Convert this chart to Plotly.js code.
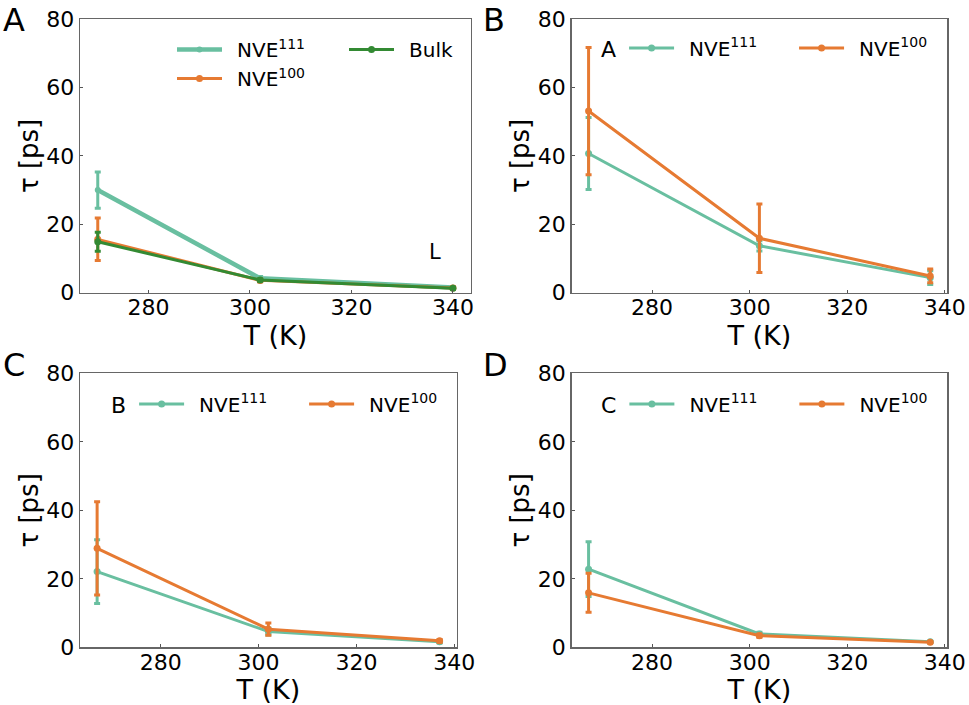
<!DOCTYPE html>
<html>
<head>
<meta charset="utf-8">
<script src="https://cdn.plot.ly/plotly-3.0.1.min.js"></script>
<style>html,body{margin:0;padding:0;background:#fff;}#chart{width:969px;height:705px;}</style>
</head>
<body>
<div id="chart"></div>
<script>
// ---- data ----
const tempA = [270, 302, 340];
const tempBCD = [267, 302, 337];

const nve111A = [30.0, 4.2, 1.5];
const err111A = [5.3, 0.5, 0.3];
const nve100A = [15.6, 3.6, 1.4];
const err100A = [6.2, 0.4, 0.3];
const bulkA = [14.9, 3.7, 1.3];
const errBulkA = [2.8, 0.3, 0.2];

const nve111B = [40.7, 13.7, 4.4];
const err111B = [10.5, 1.5, 2.0];
const nve100B = [53.1, 15.9, 4.9];
const err100B = [18.6, 10.0, 2.0];

const nve111C = [22.1, 4.6, 1.6];
const err111C = [9.3, 1.0, 0.3];
const nve100C = [28.9, 5.3, 1.9];
const err100C = [13.6, 1.8, 0.4];

const nve111D = [22.8, 3.9, 1.6];
const err111D = [8.0, 0.5, 0.2];
const nve100D = [15.9, 3.4, 1.5];
const err100D = [5.7, 0.5, 0.2];

const xTicks = [280, 300, 320, 340];
const yTicks = [0, 20, 40, 60, 80];

// ---- styles ----
const TEAL = '#69bfa0', ORANGE = '#e67a32', GREEN = '#338a33';
const FONT = 'DejaVu Sans, sans-serif';
const GAP = '\u2002';

function tr(x, y, err, color, name, xa, ya, legend, lw, ms, rank) {
  return {
    type: 'scatter', mode: 'lines+markers', x: x, y: y, name: name,
    xaxis: xa, yaxis: ya, legend: legend, legendrank: rank,
    line: {color: color, width: lw},
    marker: {color: color, size: ms},
    error_y: {type: 'data', array: err, visible: true, color: color, thickness: 3, width: 3}
  };
}
const S111 = GAP + 'NVE<sup>111</sup>', S100 = GAP + 'NVE<sup>100</sup>';

const data = [
  tr(tempA, nve111A, err111A, TEAL, S111, 'x', 'y', 'legend', 4.5, 6, 1),
  tr(tempA, nve100A, err100A, ORANGE, S100, 'x', 'y', 'legend', 3, 7, 2),
  tr(tempA, bulkA, errBulkA, GREEN, GAP + 'Bulk', 'x', 'y', 'legend2', 3, 7, 1),
  tr(tempBCD, nve111B, err111B, TEAL, S111, 'x2', 'y2', 'legend3', 3, 7, 1),
  tr(tempBCD, nve100B, err100B, ORANGE, S100, 'x2', 'y2', 'legend3', 3, 7, 2),
  tr(tempBCD, nve111C, err111C, TEAL, S111, 'x3', 'y3', 'legend4', 3, 7, 1),
  tr(tempBCD, nve100C, err100C, ORANGE, S100, 'x3', 'y3', 'legend4', 3, 7, 2),
  tr(tempBCD, nve111D, err111D, TEAL, S111, 'x4', 'y4', 'legend5', 3, 7, 1),
  tr(tempBCD, nve100D, err100D, ORANGE, S100, 'x4', 'y4', 'legend5', 3, 7, 2)
];

function xax(domain, range, anchor) {
  return {
    domain: domain, range: range, anchor: anchor,
    tickvals: xTicks, ticks: 'inside', ticklen: 3, tickcolor: '#555',
    ticklabelstandoff: -5,
    showline: true, mirror: true, linecolor: '#666', linewidth: 1.3,
    showgrid: false, zeroline: false, automargin: false,
    tickfont: {family: FONT, size: 22, color: '#000'},
    title: {text: 'T (K)', font: {family: FONT, size: 27, color: '#000'}, standoff: 0}
  };
}
function yax(domain, anchor) {
  return {
    domain: domain, range: [0, 80], anchor: anchor,
    tickvals: yTicks, ticks: 'inside', ticklen: 3, tickcolor: '#555',
    showline: true, mirror: true, linecolor: '#666', linewidth: 1.3,
    showgrid: false, zeroline: false, automargin: false,
    tickfont: {family: FONT, size: 22, color: '#000'},
    title: {text: 'τ [ps]', font: {family: FONT, size: 26, color: '#000'}, standoff: 0}
  };
}
const xL = [80/969, 470.7/969], xR = [571.5/969, 947.3/969], xLC = [80/969, 456.7/969];
const yT = [1 - 292.7/705, 1 - 19/705], yB = [1 - 647.3/705, 1 - 373.3/705];

function legH(title, x, y) {
  return {
    orientation: 'h', x: x, y: y, xanchor: 'left', yanchor: 'middle',
    bgcolor: 'rgba(0,0,0,0)', borderwidth: 0, itemwidth: 45,
    entrywidth: 110, entrywidthmode: 'pixels',
    font: {family: FONT, size: 20, color: '#000'},
    title: {text: title, side: 'left', font: {family: FONT, size: 22, color: '#000'}},
    itemclick: false, itemdoubleclick: false
  };
}

function letter(t, cx, top) {
  return {text: t, x: cx/969, y: 1 - top/705, xref: 'paper', yref: 'paper',
    xanchor: 'center', yanchor: 'top', showarrow: false, borderpad: 0,
    font: {family: FONT, size: 32, color: '#000'}};
}

const layout = {
  width: 969, height: 705,
  margin: {l: 0, r: 0, t: 0, b: 0},
  paper_bgcolor: '#fff', plot_bgcolor: '#fff',
  hovermode: false,
  font: {family: FONT, color: '#000'},
  xaxis: xax(xL, [266.5, 343.5], 'y'),
  yaxis: yax(yT, 'x'),
  xaxis2: xax(xR, [263.5, 340.5], 'y2'),
  yaxis2: yax(yT, 'x2'),
  xaxis3: xax(xLC, [263.5, 340.5], 'y3'),
  yaxis3: yax(yB, 'x3'),
  xaxis4: xax(xR, [263.5, 340.5], 'y4'),
  yaxis4: yax(yB, 'x4'),
  legend: {
    orientation: 'v', x: 172/969, y: 1 - 30/705, xanchor: 'left', yanchor: 'top',
    bgcolor: 'rgba(0,0,0,0)', borderwidth: 0, itemwidth: 45, tracegroupgap: 0,
    font: {family: FONT, size: 20, color: '#000'}, itemclick: false, itemdoubleclick: false
  },
  legend2: {
    orientation: 'v', x: 344/969, y: 1 - 30/705, xanchor: 'left', yanchor: 'top',
    bgcolor: 'rgba(0,0,0,0)', borderwidth: 0, itemwidth: 45,
    font: {family: FONT, size: 20, color: '#000'}, itemclick: false, itemdoubleclick: false
  },
  legend3: legH('A', 599/969, 1 - 48/705),
  legend4: legH('B', 109/969, 1 - 404/705),
  legend5: legH('C', 599/969, 1 - 404/705),
  annotations: [
    letter('A', 13.5, 0),
    letter('B', 494, 0),
    letter('C', 13.5, 345),
    letter('D', 496, 345),
    {text: 'L', x: 435/969, y: 1 - 252/705, xref: 'paper', yref: 'paper', xanchor: 'center', yanchor: 'middle', showarrow: false, font: {family: FONT, size: 21, color: '#000'}}
  ]
};

Plotly.newPlot('chart', data, layout, {displayModeBar: false, staticPlot: true});
</script>
</body>
</html>
